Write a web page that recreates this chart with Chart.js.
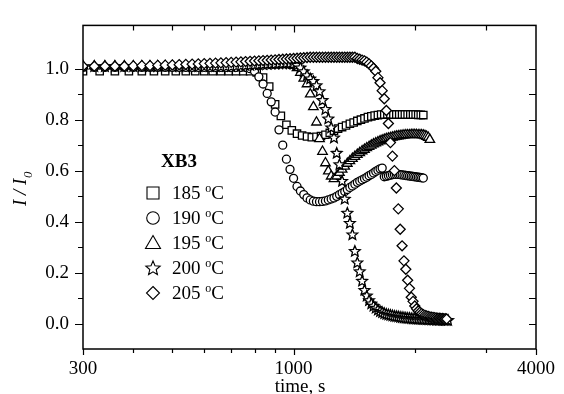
<!DOCTYPE html>
<html>
<head>
<meta charset="utf-8">
<script src="https://cdn.jsdelivr.net/npm/chart.js@4.4.1/dist/chart.umd.min.js"></script>
<style>
    html, body { margin: 0; padding: 0; background: #fff; }
    #wrap { width: 564px; height: 394px; }
</style>
</head>
<body>
<div id="wrap"><canvas id="grafico" width="564" height="394"></canvas></div>
<script>
// tempos de amostragem (s)
const t20 = [300,320,340,360,380,400,420,440,460,480,
    500,520,540,560,580,600,620,640,660,680,
    700,720,740,760,780,800,820,840,860,880,
    900,920,940,960,980,1000,1020,1040,1060,1080,
    1100,1120,1140,1160,1180,1200,1220,1240,1260,1280,
    1300,1320,1340,1360,1380,1400,1420,1440,1460,1480,
    1500,1520,1540,1560,1580,1600,1620,1640,1660,1680,
    1700,1720,1740,1760,1780,1800,1820,1840,1860,1880,
    1900,1920,1940,1960,1980,2000,2020,2040,2060,2080,
    2100,2120,2140,2160,2180,2200,2220,2240,2260,2280,
    2300,2320,2340,2360,2380,2400,2420];
const t30 = [300,330,360,390,420,450,480,510,540,570,
    600,630,660,690,720,750,780,810,840,870,
    900,930,960,990,1020,1050,1080,1110,1140,1170,
    1200,1230,1260,1290,1320,1350,1380,1410,1440,1470,
    1500,1530,1560,1590,1620,1650,1680,1710,1740,1770,
    1800,1830,1860,1890,1920,1950,1980,2010,2040,2070,
    2100];

// I/I0 por temperatura
const i185 = [0.99,0.99,0.99,0.99,0.99,0.99,0.99,0.99,0.99,0.99,
    0.99,0.99,0.99,0.99,0.99,0.99,0.99,
    0.985,0.965,0.93,0.86,0.815,0.78,0.758,0.745,0.738,0.734,
    0.731,0.733,0.736,0.741,0.748,0.757,0.765,0.771,0.777,0.784,
    0.789,0.795,0.80,0.805,0.81,0.813,0.816,0.818,0.82,0.82,
    0.821,0.821,0.82,0.82,0.82,0.82,0.82,0.82,0.82,0.82,0.82,0.819,0.819,0.818];
const i190 = [1.005,1.005,1.005,1.005,1.005,1.005,1.005,1.005,1.005,1.005,
    1.005,1.005,1.005,1.005,1.005,1.005,1.005,1.005,1.005,1.005,
    1.005,1.005,1.005,1.005,
    1.0,0.99,0.968,0.94,0.903,0.87,0.83,0.76,0.70,0.645,
    0.605,0.57,0.538,0.52,0.506,0.493,0.485,0.48,0.478,0.478,
    0.479,0.481,0.485,0.489,0.493,0.499,0.506,0.512,0.518,0.526,
    0.534,0.54,0.547,0.554,0.559,0.564,0.569,0.574,0.58,0.585,
    0.591,0.597,0.602,0.607,0.61,
    0.576,0.578,0.58,0.582,0.584,0.585,0.585,0.585,0.584,0.583,
    0.582,0.581,0.58,0.579,0.578,0.577,0.576,0.575,0.574,0.573,
    0.572,0.571];
const i195 = [1.01,1.01,1.01,1.01,1.01,1.01,1.01,1.01,1.01,1.01,
    1.01,1.01,1.01,1.01,1.01,1.01,1.01,1.01,
    1.012,1.012,1.013,1.013,1.014,1.014,1.015,1.015,1.015,1.016,
    1.016,1.016,1.017,1.017,1.017,1.017,1.017,
    1.012,1.003,0.985,0.962,0.94,0.90,0.85,0.79,0.725,0.675,
    0.63,0.598,0.578,0.568,0.578,0.592,0.605,0.617,0.628,0.638,
    0.647,0.655,0.663,0.670,0.677,0.683,0.689,0.694,0.699,0.704,
    0.708,0.712,0.716,0.719,0.722,0.725,0.727,0.729,0.731,0.733,
    0.735,0.736,0.737,0.738,0.739,0.740,0.740,0.740,0.741,0.741,
    0.741,0.741,0.740,0.740,0.740,0.739,0.737,0.734,0.730,0.722];
const i200 = [1.01,1.01,1.01,1.01,1.01,1.01,1.01,1.01,1.01,1.01,
    1.01,1.01,1.01,1.01,1.01,1.01,1.01,1.01,1.01,1.01,1.01,
    1.012,1.013,1.014,1.015,1.016,1.017,1.018,1.019,1.02,1.02,
    1.021,1.021,1.022,1.022,1.02,
    1.015,1.005,0.99,0.975,0.962,0.952,0.935,0.912,0.877,0.842,
    0.805,0.77,0.73,0.67,0.625,0.56,0.49,0.435,0.395,0.35,
    0.285,0.24,0.205,0.168,0.132,0.11,0.092,0.079,0.07,0.062,
    0.055,0.049,0.045,0.041,0.038,0.036,0.034,0.032,0.03,0.029,
    0.028,0.026,0.025,0.024,0.023,0.022,0.022,0.021,0.02,0.02,
    0.019,0.019,0.019,0.018,0.018,0.018,0.017,0.017,0.017,0.016,
    0.016,0.016,0.015,0.015,0.015,0.015,0.015,0.014,0.014,0.014,0.014];
const i205 = [1.01,1.01,1.01,1.01,1.01,
    1.011,1.012,1.012,1.013,1.014,
    1.015,1.016,1.017,1.018,1.019,1.02,1.021,1.022,1.023,1.024,
    1.025,1.026,1.027,1.028,1.029,1.03,1.031,1.032,1.033,1.034,
    1.035,1.036,1.037,1.038,1.039,1.04,1.041,1.042,1.043,1.044,
    1.045,1.045,1.045,1.045,1.045,1.045,1.045,1.045,1.045,1.045,
    1.045,1.045,1.045,1.045,1.045,1.045,1.045,
    1.04,1.037,1.034,1.031,1.026,1.019,1.011,1.002,0.99,0.965,
    0.945,0.914,0.882,0.836,0.785,0.71,0.657,0.60,0.532,0.45,
    0.37,0.305,0.246,0.213,0.17,0.138,0.103,0.087,0.069,0.058,
    0.049,0.044,0.039,0.035,0.032,0.03,0.028,0.026,0.025,0.024,
    0.023,0.022,0.021,0.021,0.02,0.02,0.019,0.019,0.018];

const temperaturas = ['185', '190', '195', '200', '205'];
const xTicks = [300, 400, 500, 600, 700, 800, 900, 1000, 2000, 3000, 4000];
const xLabels = [300, 1000, 4000];
const yTicks = [-0.1, 0, 0.1, 0.2, 0.3, 0.4, 0.5, 0.6, 0.7, 0.8, 0.9, 1.0];
const yLabels = ['0.0', '0.2', '0.4', '0.6', '0.8', '1.0'];

const fonte = "'Liberation Serif', 'Times New Roman', serif";
const IDX_ESTRELA = 3;
const LARGURA_BORDA = 1.3;

function desenharEstrela(g, cx, cy, R) {
    const r = R * 0.45;
    g.beginPath();
    for (let k = 0; k < 10; k++) {
        const raio = k % 2 === 0 ? R : r;
        const ang = -Math.PI / 2 + k * Math.PI / 5;
        const px = cx + raio * Math.cos(ang);
        const py = cy + raio * Math.sin(ang);
        if (k === 0) g.moveTo(px, py); else g.lineTo(px, py);
    }
    g.closePath();
}

function pontos(tempos, valores) {
    return valores.map((v, i) => ({ x: tempos[i], y: v }));
}

const estilos = [
    { pointStyle: 'rect', pointRadius: 5.2 },
    { pointStyle: 'circle', pointRadius: 4 },
    { pointStyle: 'triangle', pointRadius: 5.5 },
    { pointStyle: 'circle', pointRadius: 0 },   // estrela desenhada pelo plugin
    { pointStyle: 'rectRot', pointRadius: 5 }
];
const series = [pontos(t30, i185), pontos(t20, i190), pontos(t20, i195), pontos(t20, i200), pontos(t20, i205)];

const datasets = series.map((d, k) => ({
    label: temperaturas[k] + ' ºC',
    data: d,
    showLine: false,
    pointStyle: estilos[k].pointStyle,
    pointRadius: estilos[k].pointRadius,
    pointBorderColor: '#000',
    pointBackgroundColor: '#fff',
    pointBorderWidth: LARGURA_BORDA,
    order: 4 - k
}));

// estrelas de 5 pontas nas posicoes calculadas pela escala
const estrelaPlugin = {
    id: 'estrela',
    afterDatasetDraw(chart, args) {
        if (args.index !== IDX_ESTRELA) return;
        const { ctx, chartArea: a } = chart;
        ctx.save();
        ctx.beginPath();
        ctx.rect(a.left, a.top, a.right - a.left, a.bottom - a.top);
        ctx.clip();
        ctx.strokeStyle = '#000';
        ctx.fillStyle = '#fff';
        ctx.lineWidth = LARGURA_BORDA;
        ctx.lineJoin = 'miter';
        args.meta.data.forEach(p => {
            desenharEstrela(ctx, p.x, p.y + 0.5, 5.6);
            ctx.fill();
            ctx.stroke();
        });
        ctx.restore();
    }
};

function marcadorLegenda(ctx, k, x, y) {
    ctx.beginPath();
    if (k === 0) {
        ctx.rect(x - 6, y - 6, 12, 12);
    } else if (k === 1) {
        ctx.arc(x, y, 6.3, 0, Math.PI * 2);
    } else if (k === 2) {
        ctx.moveTo(x, y - 7.5);
        ctx.lineTo(x + 7.5, y + 5.5);
        ctx.lineTo(x - 7.5, y + 5.5);
        ctx.closePath();
    } else if (k === 3) {
        desenharEstrela(ctx, x, y + 0.5, 7.5);
    } else {
        ctx.moveTo(x, y - 6.5);
        ctx.lineTo(x + 6.5, y);
        ctx.lineTo(x, y + 6.5);
        ctx.lineTo(x - 6.5, y);
        ctx.closePath();
    }
    ctx.fillStyle = '#fff';
    ctx.fill();
    ctx.stroke();
}

const molduraPlugin = {
    id: 'moldura',
    afterDraw(chart) {
        const { ctx, chartArea: a, scales: { x, y } } = chart;
        ctx.save();
        ctx.strokeStyle = '#000';
        ctx.lineWidth = 1.5;
        ctx.strokeRect(a.left, a.top, a.right - a.left, a.bottom - a.top);

        ctx.lineWidth = 1.2;
        ctx.beginPath();
        yTicks.forEach(v => {
            if (v < 0) return;
            const py = Math.round(y.getPixelForValue(v)) + 0.5;
            const major = yLabels.includes(v.toFixed(1));
            ctx.moveTo(a.left, py); ctx.lineTo(a.left - (major ? 8 : 5), py);
            ctx.moveTo(a.right, py); ctx.lineTo(a.right - 7, py);
        });
        xTicks.forEach(v => {
            const px = Math.round(x.getPixelForValue(v)) + 0.5;
            const major = xLabels.includes(v);
            ctx.moveTo(px, a.bottom); ctx.lineTo(px, a.bottom + (major ? 6 : 4));
            if (v !== 300 && v !== 4000) {
                ctx.moveTo(px, a.top); ctx.lineTo(px, a.top + (major ? 7 : 5));
            }
        });
        ctx.stroke();

        // titulos dos eixos
        ctx.fillStyle = '#000';
        ctx.textAlign = 'center';
        ctx.textBaseline = 'alphabetic';
        ctx.font = '19px ' + fonte;
        ctx.fillText('time, s', 300, 392);

        ctx.save();
        ctx.translate(26, 206);
        ctx.rotate(-Math.PI / 2);
        ctx.textAlign = 'left';
        ctx.font = 'italic 19px ' + fonte;
        ctx.fillText('I / I', 0, 0);
        const w = ctx.measureText('I / I').width;
        ctx.font = 'italic 13px ' + fonte;
        ctx.fillText('0', w + 0.5, 6);
        ctx.restore();

        // legenda
        ctx.textAlign = 'center';
        ctx.font = 'bold 19px ' + fonte;
        ctx.fillText('XB3', 179, 167);
        ctx.lineWidth = 1.1;
        const linhas = [193, 218, 243, 268, 293];
        temperaturas.forEach((t, k) => {
            const yy = linhas[k];
            marcadorLegenda(ctx, k, 153, yy);
            ctx.fillStyle = '#000';
            ctx.textAlign = 'left';
            ctx.font = '19px ' + fonte;
            const txt = t + ' ';
            ctx.fillText(txt, 172, yy + 6);
            let xx = 172 + ctx.measureText(txt).width;
            ctx.font = '12px ' + fonte;
            ctx.fillText('o', xx, yy - 1);
            xx += ctx.measureText('o').width;
            ctx.font = '19px ' + fonte;
            ctx.fillText('C', xx, yy + 6);
        });
        ctx.restore();
    }
};

new Chart(document.getElementById('grafico'), {
    type: 'scatter',
    data: { datasets },
    options: {
        responsive: false,
        animation: false,
        devicePixelRatio: 1,
        layout: { padding: { top: 15, right: 24, left: 0, bottom: 0 } },
        plugins: { legend: { display: false }, tooltip: { enabled: false } },
        scales: {
            x: {
                type: 'logarithmic',
                min: 300,
                max: 4000,
                grid: { display: false, drawTicks: false },
                border: { display: false },
                afterBuildTicks: s => { s.ticks = xTicks.map(v => ({ value: v })); },
                afterFit: s => { s.height = 45; },
                ticks: {
                    autoSkip: false,
                    maxRotation: 0,
                    padding: 9,
                    color: '#000',
                    font: { family: fonte, size: 19 },
                    callback: v => xLabels.includes(v) ? String(v) : ''
                }
            },
            y: {
                type: 'linear',
                min: -0.1,
                max: 1.17,
                grid: { display: false, drawTicks: false },
                border: { display: false },
                afterBuildTicks: s => { s.ticks = yTicks.map(v => ({ value: v })); },
                afterFit: s => { s.width = 83; },
                ticks: {
                    autoSkip: false,
                    padding: 14,
                    color: '#000',
                    font: { family: fonte, size: 19 },
                    callback: v => {
                        const l = Number(v).toFixed(1);
                        return yLabels.includes(l) ? l : '';
                    }
                }
            }
        }
    },
    plugins: [estrelaPlugin, molduraPlugin]
});
</script>
</body>
</html>
